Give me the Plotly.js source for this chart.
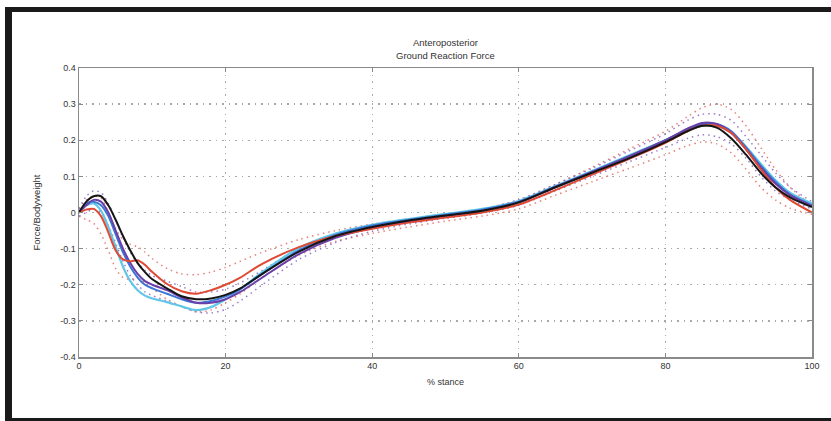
<!DOCTYPE html>
<html>
<head>
<meta charset="utf-8">
<script src="https://cdn.plot.ly/plotly-3.0.1.min.js"></script>
<style>
  html, body { margin: 0; padding: 0; background: #fff; }
  #wrap { position: relative; width: 831px; height: 421px; overflow: hidden; }
  #chart { position: absolute; left: 0; top: 0; width: 831px; height: 421px; }
  .bar { position: absolute; background: #1a1a1a; pointer-events: none; }
</style>
</head>
<body>
<div id="wrap">
  <div id="chart"></div>
  <div class="bar" style="left:5px; top:7px; width:826px; height:5px;"></div>
  <div class="bar" style="left:5px; top:7px; width:7px; height:414px;"></div>
  <div class="bar" style="left:5px; top:418px; width:826px; height:3px;"></div>
</div>
<script>
// % stance sample points
const stance = [0,1,2,3,4,5,6,7,8,9,10,12,14,16,18,20,22,25,30,35,40,45,50,55,60,65,70,75,80,83,85,87,89,91,93,95,97,100];

// solid mean curves (Force/Bodyweight)
const blackMean  = [0,0.03,0.045,0.045,0.02,-0.02,-0.065,-0.105,-0.14,-0.165,-0.185,-0.21,-0.232,-0.24,-0.238,-0.228,-0.21,-0.17,-0.108,-0.065,-0.04,-0.022,-0.008,0.005,0.028,0.07,0.11,0.15,0.195,0.225,0.24,0.235,0.205,0.16,0.11,0.07,0.042,0.015];
const purpleMean = [0,0.02,0.035,0.03,0,-0.05,-0.1,-0.14,-0.17,-0.19,-0.2,-0.215,-0.235,-0.25,-0.25,-0.24,-0.22,-0.18,-0.115,-0.07,-0.043,-0.025,-0.01,0.004,0.028,0.07,0.112,0.155,0.2,0.232,0.248,0.245,0.22,0.175,0.125,0.08,0.048,0.018];
const blueMean   = [0,0.025,0.03,0.02,-0.01,-0.06,-0.11,-0.15,-0.18,-0.2,-0.21,-0.225,-0.24,-0.25,-0.245,-0.232,-0.212,-0.17,-0.105,-0.062,-0.036,-0.02,-0.006,0.008,0.03,0.072,0.113,0.155,0.2,0.23,0.245,0.245,0.225,0.18,0.13,0.085,0.05,0.02];
const cyanMean   = [0,0.02,0.025,0.005,-0.04,-0.095,-0.15,-0.19,-0.215,-0.23,-0.238,-0.248,-0.26,-0.27,-0.262,-0.24,-0.212,-0.165,-0.098,-0.058,-0.034,-0.018,-0.004,0.01,0.032,0.073,0.115,0.158,0.2,0.228,0.24,0.24,0.222,0.182,0.135,0.09,0.055,0.025];
const redMean    = [0,0.008,0.01,-0.01,-0.055,-0.105,-0.13,-0.135,-0.132,-0.145,-0.165,-0.198,-0.218,-0.225,-0.215,-0.2,-0.18,-0.142,-0.096,-0.065,-0.045,-0.028,-0.014,0,0.022,0.062,0.105,0.148,0.193,0.225,0.24,0.24,0.22,0.175,0.12,0.07,0.035,0];

// dotted envelopes
const redUpper    = [0.01,0.035,0.045,0.04,0,-0.045,-0.075,-0.088,-0.095,-0.11,-0.128,-0.155,-0.17,-0.172,-0.165,-0.152,-0.135,-0.11,-0.075,-0.05,-0.032,-0.018,-0.006,0.01,0.035,0.078,0.125,0.175,0.225,0.265,0.29,0.3,0.285,0.24,0.18,0.12,0.07,0.02];
const redLower    = [-0.01,-0.02,-0.03,-0.06,-0.105,-0.155,-0.18,-0.185,-0.182,-0.195,-0.21,-0.24,-0.26,-0.275,-0.27,-0.25,-0.225,-0.18,-0.118,-0.08,-0.058,-0.04,-0.024,-0.01,0.01,0.048,0.085,0.122,0.16,0.185,0.195,0.19,0.165,0.12,0.07,0.035,0.012,-0.005];
const purpleUpper = [0.01,0.045,0.06,0.055,0.025,-0.02,-0.07,-0.11,-0.14,-0.16,-0.175,-0.19,-0.205,-0.22,-0.22,-0.212,-0.195,-0.16,-0.1,-0.058,-0.035,-0.018,-0.004,0.01,0.035,0.078,0.122,0.17,0.218,0.255,0.272,0.272,0.255,0.21,0.16,0.11,0.07,0.03];
const purpleLower = [-0.01,0,0.01,0,-0.035,-0.085,-0.135,-0.175,-0.2,-0.22,-0.23,-0.245,-0.26,-0.275,-0.278,-0.268,-0.245,-0.2,-0.13,-0.083,-0.052,-0.032,-0.016,-0.002,0.02,0.06,0.1,0.14,0.18,0.205,0.215,0.21,0.19,0.15,0.1,0.06,0.035,0.01];

// axis ticks
const xTickVals = [0,20,40,60,80,100];
const xTickText = ['0','20','40','60','80','100'];
const yTickVals = [-0.4,-0.3,-0.2,-0.1,0,0.1,0.2,0.3,0.4];
const yTickText = ['-0.4','-0.3','-0.2','-0.1','0','0.1','0.2','0.3','0.4'];

function line(y, color, width, dash, opacity) {
  return {
    x: stance, y: y, type: 'scatter', mode: 'lines',
    line: { color: color, width: width, dash: dash, shape: 'spline', smoothing: 0.8 },
    opacity: opacity, hoverinfo: 'skip', showlegend: false
  };
}

const traces = [
  line(redUpper, '#e26a64', 1.5, '1.5px,4px', 0.85),
  line(redLower, '#e26a64', 1.5, '1.5px,4px', 0.85),
  line(purpleUpper, '#8a64c4', 1.5, '1.5px,4px', 0.85),
  line(purpleLower, '#8a64c4', 1.5, '1.5px,4px', 0.85),
  line(cyanMean, '#62c6e6', 2.2, 'solid', 1),
  line(blueMean, '#3a76d6', 2.0, 'solid', 1),
  line(purpleMean, '#6a3fa8', 2.0, 'solid', 1),
  line(redMean, '#df4a35', 2.0, 'solid', 1),
  line(blackMean, '#151515', 2.0, 'solid', 1)
];

const axisFont = { family: 'Liberation Sans, Arial, sans-serif', size: 9, color: '#333' };

const layout = {
  width: 831, height: 421,
  margin: { l: 79, r: 19, t: 68, b: 64 },
  paper_bgcolor: '#ffffff', plot_bgcolor: '#ffffff',
  font: axisFont,
  title: {
    text: 'Anteroposterior<br>Ground Reaction Force',
    font: { family: 'Liberation Sans, Arial, sans-serif', size: 9.5, color: '#333' },
    x: 0.536, xanchor: 'center', y: 0.89, yanchor: 'middle'
  },
  xaxis: {
    range: [0, 100], tickvals: xTickVals, ticktext: xTickText,
    showgrid: true, gridcolor: '#a8a8a8', griddash: '1.5px,5px', gridwidth: 1.3,
    zeroline: false, showline: true, linecolor: '#8a8a8a', linewidth: 1.5, mirror: 'ticks',
    ticks: 'inside', ticklen: 4, tickcolor: '#8a8a8a', tickfont: axisFont,
    title: { text: '% stance', font: axisFont, standoff: 8 }
  },
  yaxis: {
    range: [-0.4, 0.4], tickvals: yTickVals, ticktext: yTickText,
    showgrid: true, gridcolor: '#a8a8a8', griddash: '1.5px,5px', gridwidth: 1.3,
    zeroline: false, showline: true, linecolor: '#8a8a8a', linewidth: 1.5, mirror: 'ticks',
    ticks: 'inside', ticklen: 4, tickcolor: '#8a8a8a', tickfont: axisFont,
    title: { text: 'Force/Bodyweight', font: { family: 'Liberation Sans, Arial, sans-serif', size: 9.5, color: '#333' }, standoff: 18 }
  }
};

Plotly.newPlot('chart', traces, layout, { staticPlot: true, displayModeBar: false });
</script>
</body>
</html>
